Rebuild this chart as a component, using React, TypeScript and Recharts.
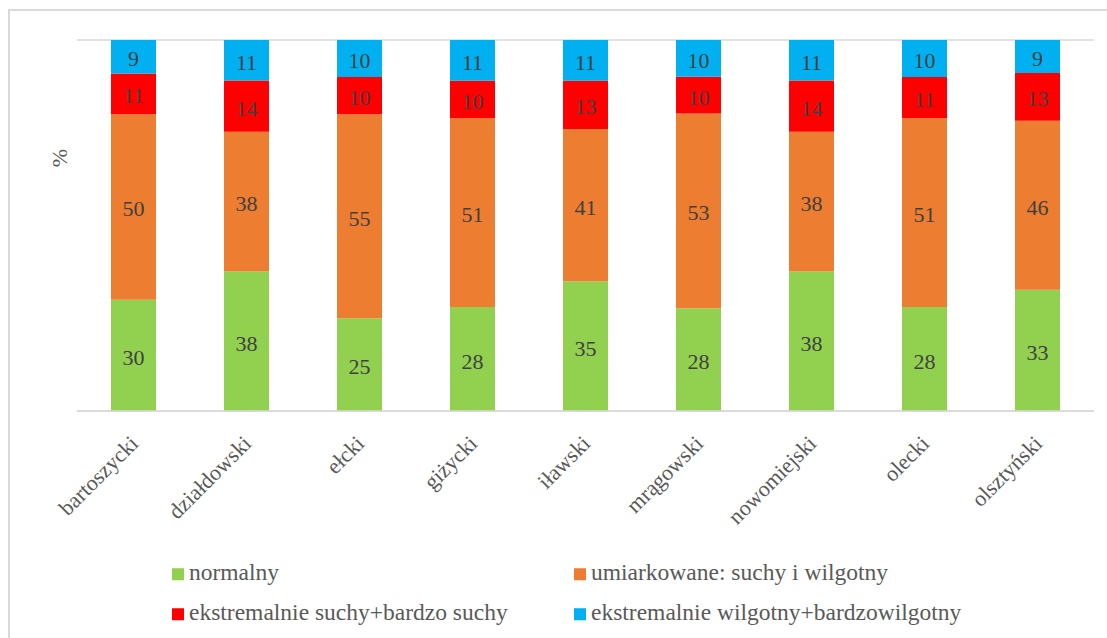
import { Bar, BarChart, CartesianGrid, XAxis, YAxis } from 'recharts'

// powiaty
const CATEGORIES = [
  'bartoszycki',
  'działdowski',
  'ełcki',
  'giżycki',
  'iławski',
  'mrągowski',
  'nowomiejski',
  'olecki',
  'olsztyński',
]

// % share of each class
const NORMALNY = [30, 38, 25, 28, 35, 28, 38, 28, 33]
const UMIARKOWANE = [50, 38, 55, 51, 41, 53, 38, 51, 46]
const EKSTR_SUCHY = [11, 14, 10, 10, 13, 10, 14, 11, 13]
const EKSTR_WILGOTNY = [9, 11, 10, 11, 11, 10, 11, 10, 9]

const Y_TICKS = [0, 0.1, 0.2, 0.3, 0.4, 0.5, 0.6, 0.7, 0.8, 0.9, 1]

const SERIES = [
  { key: 'normalny', name: 'normalny', values: NORMALNY, color: '#92d050' },
  { key: 'umiarkowane', name: 'umiarkowane: suchy i wilgotny', values: UMIARKOWANE, color: '#ed7d31' },
  { key: 'suchy', name: 'ekstremalnie suchy+bardzo suchy', values: EKSTR_SUCHY, color: '#ff0000' },
  { key: 'wilgotny', name: 'ekstremalnie wilgotny+bardzowilgotny', values: EKSTR_WILGOTNY, color: '#00b0f0' },
]

const FONT = "'Liberation Serif', Tinos, 'DejaVu Serif', serif"

const chartData = CATEGORIES.map((name, i) => {
  const row: Record<string, string | number> = { name }
  SERIES.forEach((s) => {
    row[s.key] = s.values[i]
  })
  return row
})

function makeLabel(values: number[]) {
  return function SegmentLabel(props: any) {
    const { x, y, width, height, index } = props
    if (index == null) return null
    return (
      <text
        x={Number(x) + Number(width) / 2}
        y={Number(y) + Number(height) / 2 + 2}
        textAnchor='middle'
        dominantBaseline='central'
        fill='#404040'
        fontFamily={FONT}
        fontSize={22}
      >
        {values[index]}
      </text>
    )
  }
}

function XTick({ x, y, payload }: any) {
  if (!payload) return null
  return (
    <g transform={`translate(${Number(x) + 6},${Number(y) + 26})`}>
      <text
        x={0}
        y={0}
        textAnchor='end'
        transform='rotate(-45)'
        fill='#595959'
        fontFamily={FONT}
        fontSize={22}
      >
        {payload.value}
      </text>
    </g>
  )
}

// legend positions: two columns, two rows
const LEGEND_POS = [
  { left: 172, top: 573 },
  { left: 574, top: 573 },
  { left: 172, top: 613 },
  { left: 574, top: 613 },
]

export default function App() {
  return (
    <div
      style={{
        position: 'absolute',
        left: 0,
        top: 0,
        width: 1107,
        height: 638,
        background: '#fff',
        overflow: 'hidden',
        fontFamily: FONT,
      }}
    >
      <div
        style={{
          position: 'absolute',
          left: 8,
          top: 9,
          width: 1120,
          height: 660,
          borderLeft: '2px solid #d9d9d9',
          borderTop: '2px solid #d9d9d9',
        }}
      />
      <BarChart
        width={1107}
        height={638}
        data={chartData}
        stackOffset='expand'
        barSize={45}
        margin={{ top: 40, right: 13, left: 17, bottom: 127 }}
        style={{ position: 'absolute', left: 0, top: 0 }}
      >
        <CartesianGrid
          horizontal={true}
          vertical={false}
          stroke='#d9d9d9'
          strokeWidth={1.5}
        />
        <XAxis
          dataKey='name'
          height={100}
          interval={0}
          tickLine={false}
          axisLine={{ stroke: '#d9d9d9', strokeWidth: 1.5 }}
          tick={XTick}
        />
        <YAxis
          width={60}
          domain={[0, 1]}
          ticks={Y_TICKS}
          tick={false}
          tickLine={false}
          axisLine={false}
        />
        {SERIES.map((s) => (
          <Bar
            key={s.key}
            dataKey={s.key}
            name={s.name}
            stackId='a'
            fill={s.color}
            isAnimationActive={false}
            label={makeLabel(s.values)}
          />
        ))}
      </BarChart>
      <div
        style={{
          position: 'absolute',
          left: 60,
          top: 158,
          transform: 'translate(-50%, -50%) rotate(-90deg)',
          fontSize: 22,
          color: '#595959',
        }}
      >
        %
      </div>
      {SERIES.map((s, i) => (
        <div
          key={s.key}
          style={{
            position: 'absolute',
            left: LEGEND_POS[i].left,
            top: LEGEND_POS[i].top,
            transform: 'translateY(-50%)',
            display: 'flex',
            alignItems: 'center',
            fontSize: 23.5,
            color: '#595959',
            whiteSpace: 'nowrap',
            lineHeight: 1,
          }}
        >
          <span
            style={{
              display: 'inline-block',
              width: 12,
              height: 12,
              background: s.color,
              marginRight: 5,
              marginTop: 3,
            }}
          />
          <span>{s.name}</span>
        </div>
      ))}
    </div>
  )
}
